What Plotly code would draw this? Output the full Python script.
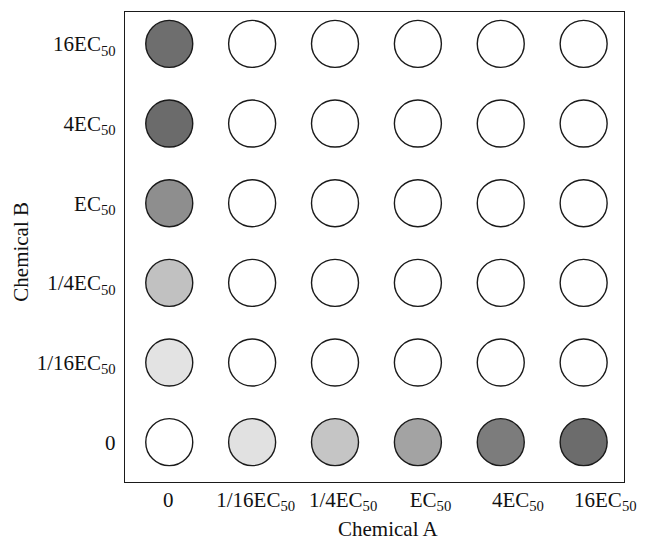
import plotly.graph_objects as go

# Concentration labels (same for both chemicals)
dose_labels = ["0", "1/16EC<sub>50</sub>", "1/4EC<sub>50</sub>", "EC<sub>50</sub>",
               "4EC<sub>50</sub>", "16EC<sub>50</sub>"]

# Effect level (shade, 0 = white .. 100 = black) for each cell, rows = Chemical B dose
# (index 0 = "0" ... 5 = "16EC50"), columns = Chemical A dose
effect_row_0 = [0, 11.8, 22.7, 36.0, 51.4, 57.6]
effect_row_1 = [11.0, 0, 0, 0, 0, 0]
effect_row_2 = [24.3, 0, 0, 0, 0, 0]
effect_row_3 = [44.3, 0, 0, 0, 0, 0]
effect_row_4 = [58.0, 0, 0, 0, 0, 0]
effect_row_5 = [56.9, 0, 0, 0, 0, 0]
effect_rows = [effect_row_0, effect_row_1, effect_row_2, effect_row_3, effect_row_4, effect_row_5]

xs, ys, vals = [], [], []
for j, row in enumerate(effect_rows):
    for i, v in enumerate(row):
        xs.append(i)
        ys.append(j)
        vals.append(v)

FONT = "Liberation Serif"

fig = go.Figure()
fig.add_trace(go.Scatter(
    x=xs, y=ys, mode="markers",
    marker=dict(size=47, color=vals, cmin=0, cmax=100,
                colorscale=[[0, "#ffffff"], [1, "#000000"]],
                line=dict(color="#1a1a1a", width=1.4)),
    hoverinfo="skip", showlegend=False,
))
# dummy trace so the label axis is drawn
fig.add_trace(go.Scatter(x=[None], y=[None], xaxis="x2", showlegend=False, hoverinfo="skip"))

fig.update_layout(
    width=647, height=540,
    margin=dict(l=125, r=15, t=11, b=58),
    paper_bgcolor="white", plot_bgcolor="white",
    font=dict(family=FONT, size=21, color="#111111"),
    xaxis=dict(range=[-0.534, 5.487], showgrid=False, zeroline=False,
               showticklabels=False, ticks="",
               showline=True, linecolor="#1a1a1a", linewidth=1.4, mirror=True),
    xaxis2=dict(range=[-0.4955, 5.214], overlaying="x", side="bottom",
                tickvals=list(range(6)), ticktext=dose_labels,
                showgrid=False, zeroline=False, showline=False, ticks="",
                ticklabelstandoff=3),
    yaxis=dict(range=[-0.5, 5.4], showgrid=False, zeroline=False,
               tickvals=list(range(6)), ticktext=dose_labels, ticks="",
               ticklabelstandoff=4,
               showline=True, linecolor="#1a1a1a", linewidth=1.4, mirror=True),
    annotations=[
        dict(text="Chemical A", xref="paper", yref="paper", x=0.529, y=0,
             yshift=-33, yanchor="top", showarrow=False, font=dict(size=21)),
        dict(text="Chemical B", xref="paper", yref="paper", x=0, xshift=-118,
             y=0.49, textangle=-90, showarrow=False, font=dict(size=21)),
    ],
)

fig.write_html("out.html")
